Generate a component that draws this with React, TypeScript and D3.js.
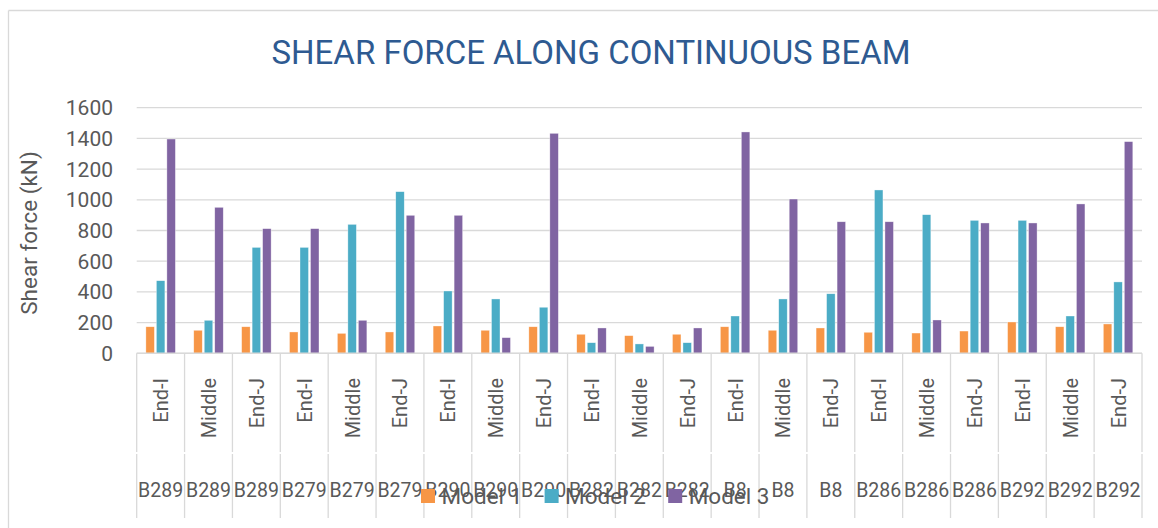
import React from "react";
import * as d3 from "d3";

const positions = ["End-I","Middle","End-J","End-I","Middle","End-J","End-I","Middle","End-J","End-I","Middle","End-J","End-I","Middle","End-J","End-I","Middle","End-J","End-I","Middle","End-J"];
const beams = ["B289","B289","B289","B279","B279","B279","B290","B290","B290","B282","B282","B282","B8","B8","B8","B286","B286","B286","B292","B292","B292"];
const model1 = [173,150,173,139,130,139,178,150,173,124,115,124,173,150,165,137,132,145,204,173,191];
const model2 = [473,215,690,690,840,1053,406,354,300,69,61,69,243,354,388,1064,903,866,866,243,465];
const model3 = [1396,951,812,812,215,899,899,102,1433,165,45,165,1442,1005,857,857,217,849,849,973,1379];
const seriesNames = ["Model 1","Model 2","Model 3"];
const seriesColors = ["#F79646","#4BACC6","#8064A2"];
const yTicks = [0,200,400,600,800,1000,1200,1400,1600];

const W = 1158, H = 528;
const left = 136.7, right = 1142, top = 107.7, bottom = 353.3;
const FONT = "Roboto, 'Noto Sans', sans-serif";
const GRID = "#d9d9d9";
const TXT = "#595959";

export default function App() {
  const idx = d3.range(positions.length);
  const x = d3.scaleBand<number>().domain(idx).range([left, right]).padding(0);
  const inner = d3.scaleBand<number>().domain([0,1,2]).range([0, x.bandwidth()]).paddingInner(0.19).paddingOuter(0.875);
  const y = d3.scaleLinear().domain([0,1600]).range([bottom, top]);
  const series = [model1, model2, model3];
  const bounds = idx.map(i => x(i)!).concat([right]);

  return (
    <svg width={W} height={H} style={{position:"absolute", left:0, top:0, display:"block", background:"#fff"}} fontFamily={FONT}>
      <rect x={0} y={0} width={W} height={H} fill="#fff" />
      {/* outer chart border */}
      <line x1={8.5} y1={10.5} x2={W} y2={10.5} stroke={GRID} strokeWidth={1.3} />
      <line x1={8.5} y1={10.5} x2={8.5} y2={H} stroke={GRID} strokeWidth={1.3} />
      {/* title */}
      <text x={591} y={64} textAnchor="middle" fontSize={34} fill="#2E5A91" textLength={639} lengthAdjust="spacingAndGlyphs">SHEAR FORCE ALONG CONTINUOUS BEAM</text>
      {/* gridlines */}
      {yTicks.map(t => (
        <line key={t} x1={left} x2={right} y1={y(t)} y2={y(t)} stroke={GRID} strokeWidth={1.3} />
      ))}
      {/* y tick labels */}
      {yTicks.map(t => (
        <text key={"l"+t} x={113} y={y(t)} dy="0.36em" textAnchor="end" fontSize={21} fill={TXT}>{t}</text>
      ))}
      {/* y axis title */}
      <text transform={`translate(37,233) rotate(-90)`} textAnchor="middle" fontSize={22.5} fill={TXT}>Shear force (kN)</text>
      {/* bars */}
      {series.map((vals, s) => (
        <g key={s} fill={seriesColors[s]}>
          {vals.map((v, i) => (
            <rect key={i} x={x(i)! + inner(s)!} y={y(v)} width={inner.bandwidth()} height={bottom - y(v)} stroke="#ffffff" strokeOpacity={0.6} strokeWidth={0.6} />
          ))}
        </g>
      ))}
      {/* category axis */}
      <line x1={left} x2={right} y1={bottom} y2={bottom} stroke={GRID} strokeWidth={1.5} />
      {bounds.map((b, i) => (
        <g key={"v"+i}>
          <line x1={b} x2={b} y1={bottom} y2={452} stroke={GRID} strokeWidth={1.3} />
          <line x1={b} x2={b} y1={454} y2={518} stroke={GRID} strokeWidth={1.3} />
        </g>
      ))}
      {idx.map(i => {
        const cx = x(i)! + x.bandwidth() / 2;
        return (
          <g key={"c"+i}>
            <text transform={`translate(${cx + 7.5},378) rotate(-90)`} textAnchor="end" fontSize={20} fill={TXT}>{positions[i]}</text>
            <text x={cx} y={496.5} textAnchor="middle" fontSize={19.5} fill={TXT}>{beams[i]}</text>
          </g>
        );
      })}
      {/* legend */}
      {seriesNames.map((n, s) => {
        const lx = 421 + s * 123.6;
        return (
          <g key={"lg"+s}>
            <rect x={lx} y={489} width={14} height={14} fill={seriesColors[s]} />
            <text x={lx + 20.5} y={503.5} fontSize={22.5} fill={TXT}>{n}</text>
          </g>
        );
      })}
    </svg>
  );
}
